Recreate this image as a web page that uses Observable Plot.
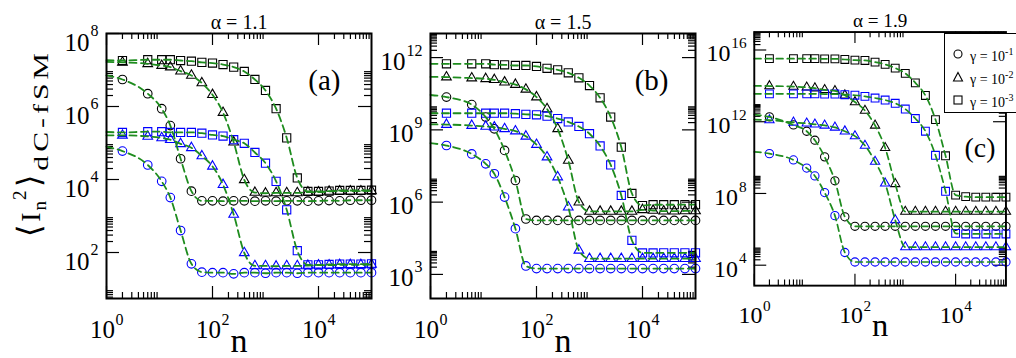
<!DOCTYPE html>
<html><head><meta charset="utf-8">
<script src="https://cdn.jsdelivr.net/npm/d3@7"></script>
<script src="https://cdn.jsdelivr.net/npm/@observablehq/plot@0.6"></script>
<style>
html,body{margin:0;padding:0;background:#fff;}
body{width:1016px;height:358px;overflow:hidden;font-family:'Liberation Serif','Times New Roman',serif;}
#root{position:relative;width:1016px;height:358px;overflow:hidden;}
.panel{position:absolute;top:0;}
.panel svg{overflow:visible;}
#ylab{position:absolute;left:31px;top:160px;transform:translate(-50%,-50%) rotate(-90deg);white-space:nowrap;font-size:28px;color:#000;line-height:1;}
#ylab .br{font-size:32px;margin:0 3px;}
#ylab .ni{font-size:19px;vertical-align:-6px;margin-left:2px;}
#ylab .tw{font-size:19px;vertical-align:14px;margin-left:1px;}
#ylab .ds{font-size:22px;vertical-align:-8px;letter-spacing:3px;margin-left:2px;display:inline-block;transform:scaleX(1.35);transform-origin:left center;}
#legend{position:absolute;left:944px;top:33px;width:90px;height:80px;border:1.5px solid #000;background:#fff;box-sizing:border-box;}
.lrow{position:absolute;left:0;height:22px;font-size:14px;white-space:nowrap;}
.lrow svg{position:absolute;left:7px;top:4px;}
.lrow span{position:absolute;left:25px;top:2px;}
.lrow sup{font-size:10px;}
</style></head>
<body><div id="root"></div>
<script>
// ---------------- data ----------------
const nValues = [2, 6, 11, 16, 25, 40, 63, 100, 158, 251, 398, 631, 1000, 1585, 2512, 3981, 6310, 10000, 15849, 25119, 39811, 63096, 100000];

// panel (a) alpha = 1.1
const a_blackCircle = [5.5e6, 2.24e6, 8.7e5, 3.0e5, 3.7e4, 4.8e3, 2.6e3, 2.6e3, 2.55e3, 2.6e3, 2.6e3, 2.55e3, 2.6e3, 2.55e3, 2.6e3, 2.6e3, 2.55e3, 2.6e3, 2.65e3, 2.6e3, 2.7e3, 2.7e3, 2.7e3];
const a_blackTri = [1.62e7, 1.48e7, 1.32e7, 1.2e7, 9.3e6, 7.1e6, 4.4e6, 2.1e6, 6.8e5, 1.05e5, 9.8e3, 4.4e3, 4.2e3, 4.3e3, 4.3e3, 4.3e3, 4.5e3, 4.5e3, 4.7e3, 4.8e3, 4.8e3, 4.8e3, 4.9e3];
const a_blackSq = [1.82e7, 1.91e7, 1.91e7, 1.91e7, 1.82e7, 1.74e7, 1.62e7, 1.55e7, 1.41e7, 1.2e7, 9.1e6, 5.5e6, 2.75e6, 8.7e5, 1.38e5, 1.1e4, 4.7e3, 4.7e3, 4.8e3, 5.0e3, 5.0e3, 5.0e3, 5.1e3];
const a_blueCircle = [6.0e4, 2.5e4, 8.9e3, 3.2e3, 400, 49, 29, 28, 28, 26, 28, 28, 27, 28, 28, 27, 28, 28, 28, 28, 28, 28, 28];
const a_blueTri = [1.62e5, 1.51e5, 1.38e5, 1.23e5, 9.5e4, 7.4e4, 4.4e4, 2.3e4, 7.2e3, 1.1e3, 98, 43, 43, 42, 43, 43, 44, 45, 45, 46, 46, 46, 47];
const a_blueSq = [1.95e5, 2.04e5, 2.04e5, 1.95e5, 1.95e5, 1.95e5, 1.86e5, 1.66e5, 1.55e5, 1.23e5, 9.8e4, 5.5e4, 2.8e4, 8.9e3, 1.48e3, 112, 46, 46, 47, 48, 48, 48, 49];
const a_fitStart = [7.1e6, 1.66e7, 1.86e7, 7.9e4, 1.62e5, 2.0e5];

// panel (b) alpha = 1.5
const b_blackCircle = [2.3e10, 1.12e10, 3.4e9, 1.1e9, 1.4e8, 7.9e6, 2.0e5, 1.74e5, 1.74e5, 1.74e5, 1.74e5, 1.74e5, 1.74e5, 1.74e5, 1.74e5, 1.74e5, 1.74e5, 1.74e5, 1.74e5, 1.74e5, 1.74e5, 1.74e5, 1.74e5];
const b_blackTri = [1.55e11, 1.41e11, 1.32e11, 1.2e11, 9.5e10, 7.6e10, 4.8e10, 2.3e10, 7.4e9, 1.1e9, 5.4e7, 1.0e6, 4.1e5, 4.1e5, 4.1e5, 4.1e5, 4.1e5, 4.8e5, 4.5e5, 4.2e5, 4.2e5, 4.3e5, 4.3e5];
const b_blackSq = [5.5e11, 5.5e11, 5.5e11, 5.1e11, 5.0e11, 4.7e11, 4.7e11, 4.3e11, 3.6e11, 3.1e11, 2.34e11, 1.45e11, 6.9e10, 2.14e10, 3.4e9, 1.9e8, 2.3e6, 7.2e5, 7.8e5, 7.8e5, 7.8e5, 7.9e5, 7.9e5];
const b_blueCircle = [2.24e8, 1.0e8, 3.9e7, 1.51e7, 1.62e6, 7.9e4, 2.24e3, 1.74e3, 1.74e3, 1.74e3, 1.74e3, 1.74e3, 1.74e3, 1.74e3, 1.74e3, 1.74e3, 1.74e3, 1.74e3, 1.74e3, 1.74e3, 1.74e3, 1.74e3, 1.74e3];
const b_blueTri = [1.66e9, 1.51e9, 1.38e9, 1.29e9, 1.1e9, 8.9e8, 5.4e8, 2.45e8, 7.4e7, 1.1e7, 6.2e5, 1.0e4, 4.5e3, 4.5e3, 4.5e3, 4.5e3, 4.5e3, 4.5e3, 4.5e3, 4.5e3, 4.5e3, 4.5e3, 4.5e3];
const b_blueSq = [4.9e9, 4.9e9, 4.9e9, 4.9e9, 4.9e9, 4.7e9, 4.4e9, 4.2e9, 3.7e9, 2.95e9, 2.14e9, 1.38e9, 6.9e8, 2.14e8, 3.5e7, 1.9e6, 2.6e4, 7.8e3, 7.8e3, 7.9e3, 7.9e3, 7.9e3, 7.9e3];
const b_fitStart = [2.8e10, 1.58e11, 5.5e11, 2.8e8, 1.7e9, 4.9e9];

// panel (c) alpha = 1.9
const c_blackCircle = [1.86e12, 6.6e11, 2.95e11, 9.3e10, 1.1e10, 5.1e8, 5.0e6, 1.48e6, 1.48e6, 1.48e6, 1.48e6, 1.48e6, 1.48e6, 1.48e6, 1.48e6, 1.48e6, 1.48e6, 1.48e6, 1.48e6, 1.48e6, 1.48e6, 1.48e6, 1.48e6];
const c_blackTri = [9.8e13, 9.1e13, 8.3e13, 7.4e13, 6.0e13, 5.2e13, 3.0e13, 1.26e13, 4.2e12, 6.2e11, 3.5e10, 3.4e8, 9.8e6, 9.8e6, 9.8e6, 9.8e6, 9.8e6, 9.8e6, 9.8e6, 9.8e6, 9.8e6, 9.8e6, 9.8e6];
const c_blackSq = [3.3e15, 3.3e15, 3.3e15, 3.3e15, 3.2e15, 3.2e15, 2.95e15, 2.7e15, 2.6e15, 2.1e15, 1.58e15, 9.8e14, 5.0e14, 1.48e14, 2.9e13, 1.32e12, 1.26e10, 8.1e7, 6.6e7, 6.2e7, 6.2e7, 6.2e7, 6.2e7];
const c_blueCircle = [1.66e10, 7.4e9, 2.6e9, 9.5e8, 1.12e8, 5.8e6, 5.1e4, 1.51e4, 1.51e4, 1.51e4, 1.51e4, 1.51e4, 1.51e4, 1.51e4, 1.51e4, 1.51e4, 1.51e4, 1.51e4, 1.51e4, 1.51e4, 1.51e4, 1.51e4, 1.51e4];
const c_blueTri = [1.23e12, 9.1e11, 8.1e11, 7.2e11, 6.2e11, 4.8e11, 2.95e11, 1.58e11, 4.7e10, 6.0e9, 3.7e8, 3.3e6, 1.02e5, 1.02e5, 1.02e5, 1.02e5, 1.02e5, 1.02e5, 1.02e5, 1.02e5, 1.02e5, 1.02e5, 1.02e5];
const c_blueSq = [3.6e13, 3.6e13, 3.6e13, 3.6e13, 3.5e13, 3.5e13, 3.2e13, 3.0e13, 2.6e13, 2.1e13, 1.62e13, 1.07e13, 5.1e12, 1.51e12, 2.95e11, 1.35e10, 1.32e8, 6.0e5, 5.5e5, 5.5e5, 5.5e5, 5.5e5, 5.5e5];
const c_fitStart = [2.5e12, 1.0e14, 3.3e15, 2.1e10, 1.3e12, 3.6e13];

// axes / labels
const xDomain = [1, 1e5];
const xMajorExps = [0, 2, 4];
const minorMultipliers = [2, 3, 4, 5, 6, 7, 8, 9];
const a_yExps = [2, 4, 6, 8], b_yExps = [3, 6, 9, 12], c_yExps = [4, 8, 12, 16];
const a_yMinorExps = [0, 2, 4, 6], b_yMinorExps = [3, 6, 9, 12], c_yMinorExps = [4, 8, 12, 16];
const a_yDomain = [Math.pow(10, 0.74), 1e8], b_yDomain = [1e2, 1e13], c_yDomain = [Math.pow(10, 2.86), 1e17];
const titles = ["α = 1.1", "α = 1.5", "α = 1.9"];
const panelTags = ["(a)", "(b)", "(c)"];
const legendLabels = ["-1", "-2", "-3"];
const xTitle = "n";

// ---------------- drawing ----------------
const serif = "'Liberation Serif', 'Times New Roman', serif";
const green = "#1e8c1e";
const symbolOf = {circle: "circle", tri: "triangle", sq: "square"};
const rOf = {circle: 4.3, tri: 3.6, sq: 4.6};

function makeSeries(vals, fit) {
  const names = ["circle", "tri", "sq"];
  const out = [];
  ["black", "blue"].forEach((col, ci) => {
    names.forEach((nm, ni) => {
      out.push({key: col + nm, color: col === "black" ? "#000" : "#0000ff", shape: nm,
        values: vals[ci * 3 + ni], fitStart: fit[ci * 3 + ni]});
    });
  });
  return out;
}

const panels = [
  {svgLeft: 0, svgWidth: 380, frameLeft: 106, frameRight: 371, yDomain: a_yDomain, yExps: a_yExps, yMinorExps: a_yMinorExps,
   series: makeSeries([a_blackCircle, a_blackTri, a_blackSq, a_blueCircle, a_blueTri, a_blueSq], a_fitStart),
   title: titles[0], tag: panelTags[0], tagDx: -31, tagDy: 56, lab10Dy: 17, labSupDy: 2},
  {svgLeft: 380, svgWidth: 325, frameLeft: 430, frameRight: 695, yDomain: b_yDomain, yExps: b_yExps, yMinorExps: b_yMinorExps,
   series: makeSeries([b_blackCircle, b_blackTri, b_blackSq, b_blueCircle, b_blueTri, b_blueSq], b_fitStart),
   title: titles[1], tag: panelTags[1], tagDx: -27, tagDy: 56, lab10Dy: 12, labSupDy: -2},
  {svgLeft: 705, svgWidth: 325, frameLeft: 756, frameRight: 1019, yDomain: c_yDomain, yExps: c_yExps, yMinorExps: c_yMinorExps,
   series: makeSeries([c_blackCircle, c_blackTri, c_blackSq, c_blueCircle, c_blueTri, c_blueSq], c_fitStart),
   title: titles[2], tag: panelTags[2], tagDx: -11, tagDy: 131, lab10Dy: 12, labSupDy: -2}
];

const root = document.getElementById("root");

panels.forEach(p => {
  const fw = p.frameRight - p.frameLeft, fh = 265;
  const xMajor = xMajorExps.map(e => Math.pow(10, e));
  const xMinor = xMajorExps.flatMap(e => minorMultipliers.map(m => m * Math.pow(10, e))).filter(v => v <= xDomain[1]);
  const yMajor = p.yExps.map(e => Math.pow(10, e));
  const yMinor = p.yMinorExps.flatMap(e => minorMultipliers.map(m => m * Math.pow(10, e)))
    .filter(v => v >= p.yDomain[0] && v <= p.yDomain[1]);
  const tickStyle = {stroke: "#000", strokeWidth: 1.2};
  const marks = [
    Plot.tickX(xMajor, {x: d => d, insetTop: fh - 12, ...tickStyle}),
    Plot.tickX(xMajor, {x: d => d, insetBottom: fh - 12, ...tickStyle}),
    Plot.tickX(xMinor, {x: d => d, insetTop: fh - 6, ...tickStyle}),
    Plot.tickX(xMinor, {x: d => d, insetBottom: fh - 6, ...tickStyle}),
    Plot.tickY(yMajor, {y: d => d, insetRight: fw - 13, ...tickStyle}),
    Plot.tickY(yMajor, {y: d => d, insetLeft: fw - 13, ...tickStyle}),
    Plot.tickY(yMinor, {y: d => d, insetRight: fw - 7, ...tickStyle}),
    Plot.tickY(yMinor, {y: d => d, insetLeft: fw - 7, ...tickStyle})
  ];
  p.series.forEach(s => {
    const rows = nValues.map((n, i) => ({n, v: s.values[i]}));
    marks.push(Plot.dot(rows, {x: "n", y: "v", symbol: symbolOf[s.shape], r: rOf[s.shape], stroke: s.color, fill: "none", strokeWidth: 1.1}));
  });
  const lineRows = p.series.flatMap(s => [{n: 1, v: s.fitStart, key: s.key}, ...nValues.map((n, i) => ({n, v: s.values[i], key: s.key}))]);
  marks.push(Plot.line(lineRows, {x: "n", y: "v", z: "key", stroke: green, strokeWidth: 1.8, strokeDasharray: "7,4.5", curve: "monotone-x"}));
  marks.push(Plot.frame({stroke: "#000", strokeWidth: 2}));
  // x tick labels
  marks.push(Plot.text(xMajorExps, {x: e => Math.pow(10, e), text: () => "10", frameAnchor: "bottom", dy: 39, dx: -4, lineAnchor: "bottom", textAnchor: "middle", fontSize: 25, fontFamily: serif, fill: "#000"}));
  marks.push(Plot.text(xMajorExps, {x: e => Math.pow(10, e), text: e => String(e), frameAnchor: "bottom", dy: 26, dx: 9, lineAnchor: "bottom", textAnchor: "start", fontSize: 16, fontFamily: serif, fill: "#000"}));
  // y tick labels
  const one = p.yExps.filter(e => e < 10), two = p.yExps.filter(e => e >= 10);
  [[one, 8], [two, 16]].forEach(([arr, w]) => {
    marks.push(Plot.text(arr, {y: e => Math.pow(10, e), text: () => "10", frameAnchor: "left", dx: -(9 + w), dy: p.lab10Dy, lineAnchor: "bottom", textAnchor: "end", fontSize: 25, fontFamily: serif, fill: "#000"}));
    marks.push(Plot.text(arr, {y: e => Math.pow(10, e), text: e => String(e), frameAnchor: "left", dx: -(8 + w), dy: p.labSupDy, lineAnchor: "bottom", textAnchor: "start", fontSize: 16, fontFamily: serif, fill: "#000"}));
  });
  marks.push(Plot.text([p.title], {text: d => d, frameAnchor: "top", dy: -5, lineAnchor: "bottom", fontSize: 20, fontFamily: serif, fill: "#000", style: "letter-spacing:3.5px"}));
  marks.push(Plot.text([p.tag], {text: d => d, frameAnchor: "top-right", dx: p.tagDx, dy: p.tagDy, lineAnchor: "bottom", textAnchor: "end", fontSize: 29, fontFamily: serif, fill: "#000"}));
  marks.push(Plot.text([xTitle], {text: d => d, frameAnchor: "bottom", dy: 53, lineAnchor: "bottom", fontSize: 34, fontFamily: serif, fill: "#000"}));

  const chart = Plot.plot({
    width: p.svgWidth, height: 358,
    marginLeft: p.frameLeft - p.svgLeft, marginRight: p.svgWidth - (p.frameRight - p.svgLeft),
    marginTop: 33, marginBottom: 60,
    x: {type: "log", domain: xDomain, axis: null},
    y: {type: "log", domain: p.yDomain, axis: null},
    style: {background: "transparent", fontFamily: serif, overflow: "visible"},
    marks
  });
  const div = document.createElement("div");
  div.className = "panel";
  div.style.left = p.svgLeft + "px";
  div.appendChild(chart);
  root.appendChild(div);
});

// y axis title
const ylab = document.createElement("div");
ylab.id = "ylab";
ylab.innerHTML = "<span class='br'>⟨</span>I<span class='ni'>n</span><span class='tw'>2</span><span class='br'>⟩</span><span class='ds'>dC-fSM</span>";
root.appendChild(ylab);

// legend (inside panel c)
const legend = document.createElement("div");
legend.id = "legend";
const legendSymbols = ["circle", "triangle", "square"];
legendLabels.forEach((lab, i) => {
  const row = document.createElement("div");
  row.className = "lrow";
  row.style.top = (10 + i * 23) + "px";
  let shape = "";
  if (legendSymbols[i] === "circle") shape = "<circle cx='6' cy='6' r='4' fill='none' stroke='#000' stroke-width='1.1'/>";
  if (legendSymbols[i] === "triangle") shape = "<polygon points='6,1.5 10.5,10 1.5,10' fill='none' stroke='#000' stroke-width='1.1'/>";
  if (legendSymbols[i] === "square") shape = "<rect x='2' y='2' width='8' height='8' fill='none' stroke='#000' stroke-width='1.1'/>";
  row.innerHTML = "<svg width='12' height='12'>" + shape + "</svg><span>γ = 10<sup>" + lab + "</sup></span>";
  legend.appendChild(row);
});
root.appendChild(legend);
</script>
</body></html>
